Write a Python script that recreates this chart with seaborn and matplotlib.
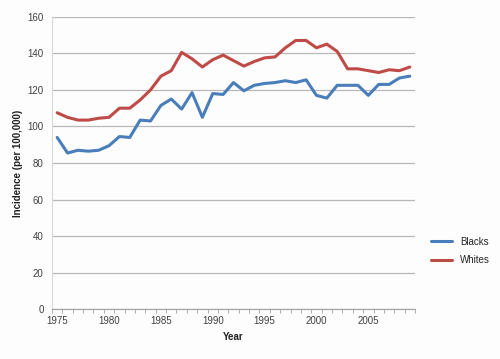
import numpy as np
import pandas as pd
import matplotlib
matplotlib.use("Agg")
import matplotlib.pyplot as plt
import seaborn as sns

years = list(range(1975, 2010))
blacks = [94, 85.5, 87, 86.5, 87, 89.5, 94.5, 94, 103.5, 103, 111.5, 115, 109.5, 118.5, 105,
          118, 117.5, 124, 119.5, 122.5, 123.5, 124, 125, 124, 125.5, 117, 115.5, 122.5, 122.5,
          122.5, 117, 123, 123, 126.5, 127.5]
whites = [107.5, 105, 103.5, 103.5, 104.5, 105, 110, 110, 114.5, 120, 127.5, 130.5, 140.5, 137,
          132.5, 136.5, 139, 136, 133, 135.5, 137.5, 138, 143, 147, 147, 143, 145, 141, 131.5,
          131.5, 130.5, 129.5, 131, 130.5, 132.5]
series_names = ["Blacks", "Whites"]
y_ticks = list(range(0, 161, 20))
x_labels = [1975, 1980, 1985, 1990, 1995, 2000, 2005]

df = pd.DataFrame({
    "Year": years * 2,
    "Incidence": blacks + whites,
    "Group": ["Blacks"] * len(years) + ["Whites"] * len(years),
})

sns.set_style("white")
plt.rcParams["font.family"] = ["Liberation Sans", "DejaVu Sans"]

fig = plt.figure(figsize=(5, 3.59), dpi=100, facecolor="#fcfdfc")
ax = fig.add_axes([0.104, 0.138, 0.726, 0.8155])
ax.set_facecolor("#fcfdfc")

sns.lineplot(data=df, x="Year", y="Incidence", hue="Group", hue_order=series_names,
             palette=["#4a7ebb", "#be4b48"], linewidth=2.2, ax=ax)

ax.set_xlim(1974.5, 2009.5)
ax.set_ylim(0, 160)
ax.set_yticks(y_ticks)
ax.yaxis.grid(True, color="#b8b8b8", linewidth=0.9)
ax.set_axisbelow(True)
ax.set_xticks(x_labels)
ax.set_xticks(np.arange(1974.5, 2010, 1), minor=True)
ax.tick_params(axis="x", which="major", length=0, pad=5, labelsize=7, labelcolor="#404040")
ax.tick_params(axis="x", which="minor", length=3, color="#a0a0a0", direction="out", bottom=True)
ax.tick_params(axis="y", length=0, pad=6, labelsize=7, labelcolor="#404040")

for side in ["top", "right"]:
    ax.spines[side].set_visible(False)
ax.spines["left"].set_color("#d8d8d8")
ax.spines["bottom"].set_color("#a0a0a0")
ax.spines["left"].set_linewidth(0.8)
ax.spines["bottom"].set_linewidth(0.8)

ax.set_xlabel("Year", fontsize=7, fontweight="bold", color="#202020", labelpad=4)
ax.set_ylabel("Incidence (per 100,000)", fontsize=7, fontweight="bold", color="#202020", labelpad=3)

ax.legend(loc="center left", bbox_to_anchor=(1.02, 0.2), frameon=False, fontsize=7,
          handlelength=2.2, labelspacing=0.9)

fig.savefig("out.png", dpi=100, facecolor=fig.get_facecolor())
